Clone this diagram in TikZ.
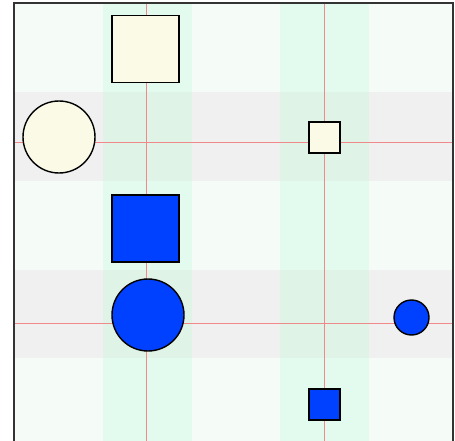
\documentclass[tikz,border=0pt]{standalone}
\usepackage{tikz}
\definecolor{cellbg}{HTML}{F5FCF8}
\definecolor{colbg}{HTML}{E3FBEF}
\definecolor{rowbg}{HTML}{F0F0F0}
\definecolor{crossbg}{HTML}{DFF3E6}
\definecolor{paleyel}{HTML}{FAFAE6}
\definecolor{bluefill}{HTML}{0040FF}
\definecolor{guide}{HTML}{F08A8A}

\begin{document}
\begin{tikzpicture}[x=1pt,y=-1pt,
  sq/.style={draw=black,line width=1.4pt,minimum size=#1,inner sep=0pt},
  rnd/.style={draw=black,line width=1.4pt,circle,minimum size=#1,inner sep=0pt}]
\useasboundingbox (0,0) rectangle (455,441);
% backgrounds
\fill[cellbg] (14,3) rectangle (453,441);
\fill[colbg] (103,3) rectangle (192,441);
\fill[colbg] (280,3) rectangle (369,441);
\fill[rowbg] (14,92) rectangle (453,181);
\fill[rowbg] (14,270) rectangle (453,358);
\fill[crossbg] (103,92) rectangle (192,181);
\fill[crossbg] (280,92) rectangle (369,181);
\fill[crossbg] (103,270) rectangle (192,358);
\fill[crossbg] (280,270) rectangle (369,358);
% guides
\draw[guide,line width=0.9pt] (146,3) -- (146,441);
\draw[guide,line width=0.9pt] (324.5,3) -- (324.5,441);
\draw[guide,line width=0.9pt] (14,142) -- (453,142);
\draw[guide,line width=0.9pt] (14,323) -- (453,323);
% frame
\draw[black!80,line width=1.4pt] (14,441) -- (14,3) -- (453,3) -- (453,441);
% shapes
\node[sq=67pt,fill=paleyel] (topsq) at (145.5,49) {};
\node[rnd=72pt,fill=paleyel] (leftcirc) at (59,137) {};
\node[sq=31pt,fill=paleyel] (smallsq) at (324.5,137.5) {};
\node[sq=67pt,fill=bluefill] (bluesq) at (145.5,228.5) {};
\node[rnd=72pt,fill=bluefill] (bluecirc) at (148,315) {};
\node[rnd=35pt,fill=bluefill] (dotcirc) at (411.5,317.5) {};
\node[sq=31pt,fill=bluefill] (dotsq) at (324.5,404.5) {};
\end{tikzpicture}
\end{document}
